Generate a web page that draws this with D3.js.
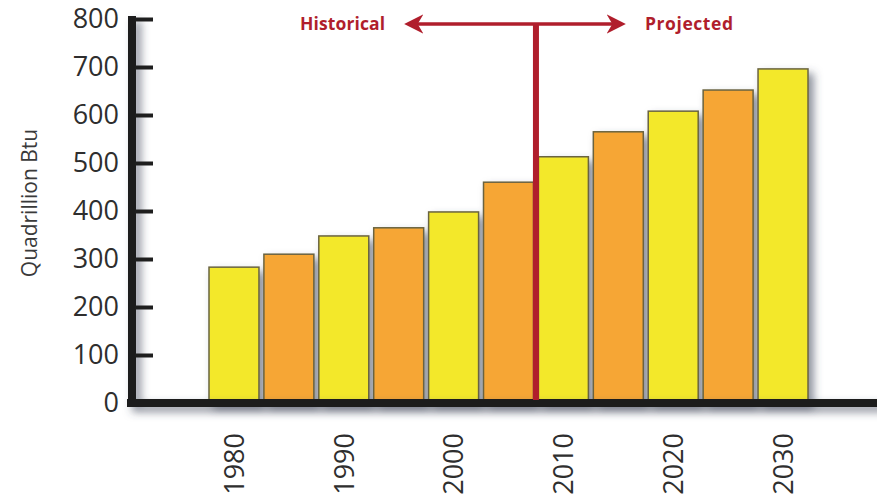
<!DOCTYPE html>
<html>
<head>
<meta charset="utf-8">
<script src="https://cdn.jsdelivr.net/npm/d3@7/dist/d3.min.js"></script>
<style>
  body { margin: 0; background: #fff; }
  svg { display: block; }
  text { font-family: "Open Sans", sans-serif; }
</style>
</head>
<body>
<script>
const years = [1980, 1985, 1990, 1995, 2000, 2005, 2010, 2015, 2020, 2025, 2030];
const energy = [283, 310, 348, 365, 398, 460, 513, 565, 608, 652, 696];
const yTicks = [0, 100, 200, 300, 400, 500, 600, 700, 800];
const labelYears = [1980, 1990, 2000, 2010, 2020, 2030];
const barColors = ["#f3e82c", "#f6a636"];

const width = 877, height = 502;

const svg = d3.select("body").append("svg")
  .attr("width", width)
  .attr("height", height);

const defs = svg.append("defs");
const shadow = defs.append("filter").attr("id", "shadow")
  .attr("x", "-20%").attr("y", "-20%").attr("width", "160%").attr("height", "160%");
shadow.append("feDropShadow")
  .attr("dx", 5).attr("dy", 5).attr("stdDeviation", 4)
  .attr("flood-color", "#40475a").attr("flood-opacity", 0.6);

const x = d3.scaleBand()
  .domain(years)
  .range([209, 808])
  .paddingInner(0.09);

const y = d3.scaleLinear()
  .domain([0, 800])
  .range([403, 19]);

// bars
svg.append("g")
  .attr("filter", "url(#shadow)")
  .selectAll("rect")
  .data(years)
  .enter()
  .append("rect")
  .attr("x", d => x(d))
  .attr("y", (d, i) => y(energy[i]))
  .attr("width", x.bandwidth())
  .attr("height", (d, i) => y(0) - y(energy[i]))
  .attr("fill", (d, i) => barColors[i % 2])
  .attr("stroke", "#6a6440")
  .attr("stroke-width", 1.5);

// axes
const axisG = svg.append("g").attr("filter", "url(#shadow)");
axisG.append("line")
  .attr("x1", 127).attr("x2", width + 10)
  .attr("y1", y(0)).attr("y2", y(0))
  .attr("stroke", "#1e1e1e").attr("stroke-width", 8);
axisG.append("line")
  .attr("x1", 132).attr("x2", 132)
  .attr("y1", y(800) - 3).attr("y2", y(0) + 4)
  .attr("stroke", "#1e1e1e").attr("stroke-width", 8);

const yAxis = d3.axisRight(y)
  .tickValues(yTicks.slice(1))
  .tickSize(18)
  .tickFormat("");
const yAxisG = svg.append("g")
  .attr("transform", "translate(135,0)")
  .call(yAxis);
yAxisG.select(".domain").remove();
yAxisG.selectAll(".tick line")
  .attr("stroke", "#1e1e1e")
  .attr("stroke-width", 4);

// y tick labels
svg.append("g")
  .selectAll("text")
  .data(yTicks)
  .enter()
  .append("text")
  .attr("x", 119)
  .attr("y", d => y(d))
  .attr("dy", "0.35em")
  .attr("text-anchor", "end")
  .attr("font-size", 27)
  .attr("fill", "#2e2e2e")
  .text(d => d);

// x labels
svg.append("g")
  .selectAll("text")
  .data(labelYears)
  .enter()
  .append("text")
  .attr("transform", d => `translate(${x(d) + x.bandwidth() / 2},433) rotate(-90)`)
  .attr("dy", "0.36em")
  .attr("text-anchor", "end")
  .attr("font-size", 27)
  .attr("fill", "#2e2e2e")
  .text(d => d);

// y label
svg.append("text")
  .attr("transform", "translate(37,203) rotate(-90)")
  .attr("text-anchor", "middle")
  .attr("font-size", 21)
  .attr("fill", "#3a3a3a")
  .text("Quadrillion Btu");

// historical / projected marker
const red = "#b01e2c";
const divX = (x(2005) + x.bandwidth() + x(2010)) / 2;
const arrowY = 24;
const mk = defs.append("marker").attr("id", "arrow")
  .attr("viewBox", "0 0 10 10").attr("refX", 8).attr("refY", 5)
  .attr("markerWidth", 5.5).attr("markerHeight", 5.5)
  .attr("orient", "auto-start-reverse");
mk.append("path").attr("d", "M0,0 L10,5 L0,10 L3,5 Z").attr("fill", red);

svg.append("line")
  .attr("x1", 408).attr("x2", 622)
  .attr("y1", arrowY).attr("y2", arrowY)
  .attr("stroke", red).attr("stroke-width", 3.5)
  .attr("marker-start", "url(#arrow)")
  .attr("marker-end", "url(#arrow)");
svg.append("line")
  .attr("x1", divX).attr("x2", divX)
  .attr("y1", arrowY).attr("y2", y(0) - 3)
  .attr("stroke", red).attr("stroke-width", 6);

svg.append("text")
  .attr("x", 300).attr("y", arrowY).attr("dy", "0.35em")
  .attr("font-size", 17.5).attr("font-weight", "bold")
  .attr("fill", red)
  .attr("textLength", 85)
  .text("Historical");
svg.append("text")
  .attr("x", 645).attr("y", arrowY).attr("dy", "0.35em")
  .attr("font-size", 17.5).attr("font-weight", "bold")
  .attr("fill", red)
  .attr("textLength", 88)
  .text("Projected");
</script>
</body>
</html>
